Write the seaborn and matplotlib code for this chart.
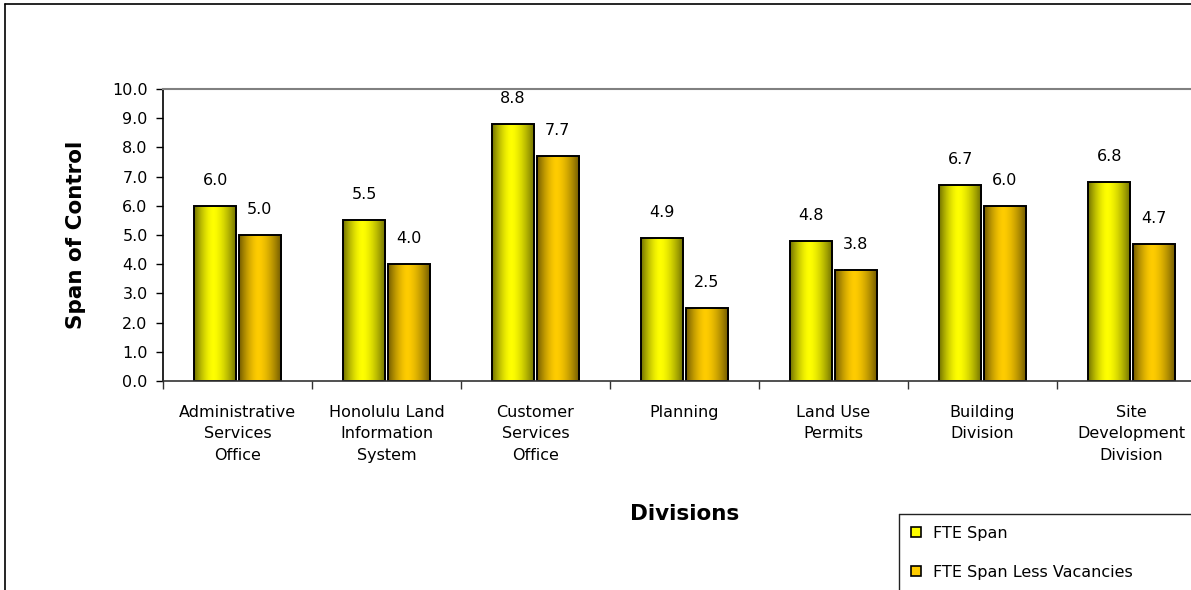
import numpy as np
import pandas as pd
import matplotlib
matplotlib.use("Agg")
import matplotlib.pyplot as plt
from matplotlib.patches import Patch
from matplotlib.lines import Line2D
import seaborn as sns

# Divisions (multi-line labels as shown under each group)
divisions = [
    "Administrative\nServices\nOffice",
    "Honolulu Land\nInformation\nSystem",
    "Customer\nServices\nOffice",
    "Planning",
    "Land Use\nPermits",
    "Building\nDivision",
    "Site\nDevelopment\nDivision",
]
series_names = ["FTE Span", "FTE Span Less Vacancies"]
fte_span = [6.0, 5.5, 8.8, 4.9, 4.8, 6.7, 6.8]
fte_span_less_vac = [5.0, 4.0, 7.7, 2.5, 3.8, 6.0, 4.7]
y_ticks = [0.0, 1.0, 2.0, 3.0, 4.0, 5.0, 6.0, 7.0, 8.0, 9.0, 10.0]

base_colors = {"FTE Span": "#FFFF00", "FTE Span Less Vacancies": "#FFCC00"}

df = pd.DataFrame({
    "Division": divisions * 2,
    "Series": [series_names[0]] * len(divisions) + [series_names[1]] * len(divisions),
    "Value": fte_span + fte_span_less_vac,
})

sns.set_style("white")
plt.rcParams["font.family"] = ["DejaVu Sans"]
plt.rcParams.update({"text.color": "black", "axes.labelcolor": "black",
                     "xtick.color": "black", "ytick.color": "black"})

W, H = 1191, 590
fig = plt.figure(figsize=(W / 100, H / 100), dpi=100)
ax = fig.add_axes([163 / W, (H - 381) / H, 1043 / W, 292 / H])

sns.barplot(
    data=df, x="Division", y="Value", hue="Series",
    order=divisions, hue_order=series_names,
    palette=base_colors, width=0.6, gap=0.06,
    edgecolor="black", linewidth=1.4, saturation=1.0,
    legend=False, ax=ax,
)

# Horizontal cylinder-like shading inside each bar
t = np.linspace(0, 1, 64)
c = 0.45
shade = np.where(t < c, 1 - 0.55 * ((c - t) / c) ** 1.6, 1 - 0.58 * ((t - c) / (1 - c)) ** 1.6)
for name, container in zip(series_names, ax.containers):
    rgb = np.array(matplotlib.colors.to_rgb(base_colors[name]))
    grad = (shade[:, None] * rgb[None, :])[None, :, :]
    for bar in container:
        x0, y0 = bar.get_xy()
        w, h = bar.get_width(), bar.get_height()
        bar.set_facecolor("none")
        bar.set_zorder(2)
        im = ax.imshow(grad, extent=[x0, x0 + w, y0, y0 + h], aspect="auto",
                       interpolation="bilinear", zorder=1.5)
        im.set_clip_path(bar)
    ax.bar_label(container, fmt="%.1f", padding=13, fontsize=11.5, color="black")

ax.set_xlim(-0.5, len(divisions) - 0.5)
ax.set_ylim(0, 10)
ax.set_yticks(y_ticks)
ax.set_yticklabels([f"{v:.1f}" for v in y_ticks])
ax.tick_params(axis="y", which="major", length=5, width=1, direction="out",
               pad=6, labelsize=11.5, left=True, right=False, color="black")
ax.set_xticks(np.arange(-0.5, len(divisions), 1), minor=True)
ax.tick_params(axis="x", which="major", length=0, pad=17, labelsize=11.5)
ax.tick_params(axis="x", which="minor", length=6, width=1, direction="out",
               bottom=True, top=False, color="#333333")
for lab in ax.get_xticklabels():
    lab.set_linespacing(1.55)
    lab.set_multialignment("center")

ax.set_xlabel("Divisions", fontsize=15.5, fontweight="bold")
ax.set_ylabel("Span of Control", fontsize=15.5, fontweight="bold")
ax.xaxis.label.set_va("center")
ax.yaxis.label.set_va("center")
ax.xaxis.set_label_coords(0.5, (381 - 514) / 292)
ax.yaxis.set_label_coords((76 - 163) / 1043, 0.5)

ax.spines["top"].set_color("#808080")
ax.spines["top"].set_linewidth(1.5)
ax.spines["right"].set_visible(False)
ax.spines["left"].set_color("black")
ax.spines["left"].set_linewidth(1.2)
ax.spines["bottom"].set_color("#333333")
ax.spines["bottom"].set_linewidth(1.2)
ax.grid(False)

# Legend in the lower-right corner of the chart area; its box runs off the
# right and bottom edges, so only the left and top sides of the frame show.
handles = [Patch(facecolor=base_colors[n], edgecolor="black", linewidth=1.2) for n in series_names]
leg = fig.legend(
    handles, series_names, loc="upper left",
    bbox_to_anchor=(899 / W, 1 - 514 / H), borderaxespad=0, fontsize=11.5,
    handlelength=0.6, handleheight=0.6, handletextpad=0.75,
    labelspacing=1.5, borderpad=0.75, frameon=False,
)
fig.canvas.draw()
bb = leg.get_window_extent().transformed(fig.transFigure.inverted())
frame_kw = dict(transform=fig.transFigure, color="#222222", linewidth=1.0)
fig.add_artist(Line2D([bb.x0, bb.x0], [bb.y1, -0.05], **frame_kw))
fig.add_artist(Line2D([bb.x0, 1.05], [bb.y1, bb.y1], **frame_kw))

# Outer chart-area border (left and top sides)
border_kw = dict(transform=fig.transFigure, color="black", linewidth=1.2)
fig.add_artist(Line2D([5 / W, 5 / W], [1 - 4 / H, -0.05], **border_kw))
fig.add_artist(Line2D([5 / W, 1.05], [1 - 4 / H, 1 - 4 / H], **border_kw))

fig.savefig("out.png", dpi=100)
